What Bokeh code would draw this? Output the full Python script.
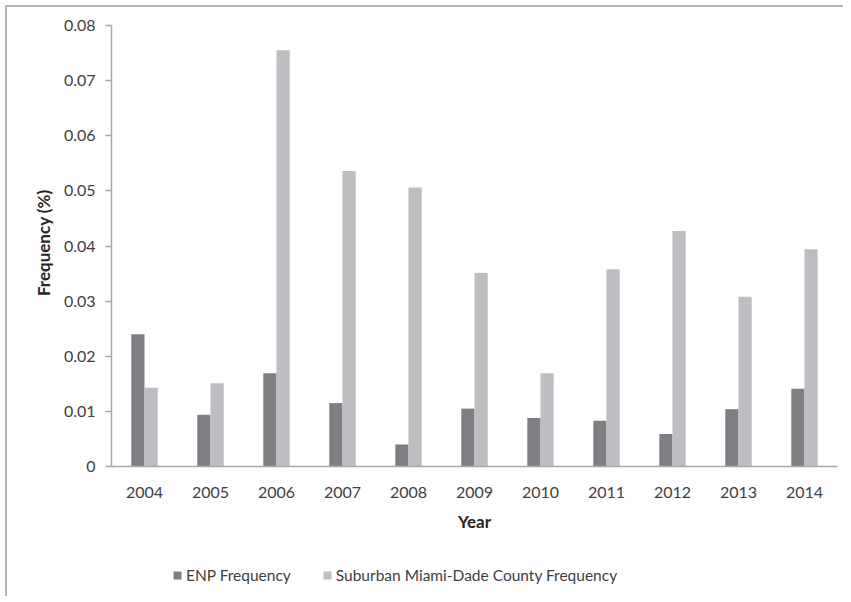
from bokeh.plotting import figure
from bokeh.models import ColumnDataSource, Legend, LegendItem, FixedTicker, Title
from bokeh.transform import dodge
from bokeh.embed import file_html
from bokeh.resources import INLINE

years = ["2004", "2005", "2006", "2007", "2008", "2009", "2010", "2011", "2012", "2013", "2014"]
enp = [0.0240, 0.0094, 0.0169, 0.0115, 0.0040, 0.0105, 0.0088, 0.0083, 0.0059, 0.0104, 0.0141]
suburban = [0.0143, 0.0151, 0.0755, 0.0536, 0.0506, 0.0351, 0.0169, 0.0358, 0.0427, 0.0308, 0.0394]
yticks = [0, 0.01, 0.02, 0.03, 0.04, 0.05, 0.06, 0.07, 0.08]
ytick_labels = ["0", "0.01", "0.02", "0.03", "0.04", "0.05", "0.06", "0.07", "0.08"]

FONT = "Lato"
TEXT = "#404040"
AXIS = "#a6a6aa"
ENP_COLOR = "#7e7f83"
SUB_COLOR = "#bdbec2"

Y_MAX = 0.08
# the frame extends below zero so that the legend sits inside it
Y_LOW = -Y_MAX * 132 / 441

src = ColumnDataSource(dict(year=years, enp=enp, suburban=suburban))

p = figure(x_range=years, y_range=(Y_LOW, Y_MAX), width=838, height=591,
           output_backend="svg", toolbar_location=None,
           min_border_left=104, min_border_right=8, min_border_top=18, min_border_bottom=0)

r1 = p.vbar(x=dodge("year", -0.1, range=p.x_range), top="enp", width=0.2, source=src,
            fill_color=ENP_COLOR, line_color=None)
r2 = p.vbar(x=dodge("year", 0.1, range=p.x_range), top="suburban", width=0.2, source=src,
            fill_color=SUB_COLOR, line_color=None)

p.x_range.range_padding = 0
p.outline_line_color = None
p.xgrid.grid_line_color = None
p.ygrid.grid_line_color = None
p.background_fill_color = "white"
p.border_fill_color = "white"

p.yaxis.bounds = (0, Y_MAX)
p.yaxis.ticker = FixedTicker(ticks=yticks)
p.yaxis.major_label_overrides = {t: l for t, l in zip(yticks, ytick_labels)}
p.yaxis.minor_tick_line_color = None
p.yaxis.major_tick_in = 0
p.yaxis.major_tick_out = 6
p.yaxis.major_tick_line_color = AXIS
p.yaxis.major_tick_line_width = 1.5
p.yaxis.axis_line_color = AXIS
p.yaxis.axis_line_width = 1.5
p.yaxis.major_label_standoff = 10

p.xaxis.fixed_location = 0
p.xaxis.axis_line_color = AXIS
p.xaxis.axis_line_width = 1.5
p.xaxis.major_tick_line_color = None
p.xaxis.minor_tick_line_color = None
p.xaxis.major_label_standoff = 14
p.xaxis.axis_label = "Year"
p.xaxis.axis_label_standoff = 10

for ax in (p.xaxis, p.yaxis):
    ax.major_label_text_font = FONT
    ax.major_label_text_font_size = "16px"
    ax.major_label_text_color = TEXT
    ax.axis_label_text_font = FONT
    ax.axis_label_text_font_size = "17px"
    ax.axis_label_text_font_style = "bold"
    ax.axis_label_text_color = "#262626"

ytitle = Title(text="Frequency (%)", align="right", offset=164, standoff=14,
               text_font=FONT, text_font_size="17px", text_font_style="bold",
               text_color="#262626")
p.add_layout(ytitle, "left")

legend = Legend(items=[LegendItem(label="ENP Frequency", renderers=[r1]),
                       LegendItem(label="Suburban Miami-Dade County Frequency", renderers=[r2])],
                orientation="horizontal", location=(61, 14),
                label_text_font=FONT, label_text_font_size="15.5px", label_text_color=TEXT,
                glyph_width=10, glyph_height=10, label_standoff=4, spacing=31,
                border_line_color=None, background_fill_alpha=0, padding=4, margin=0)
p.add_layout(legend, "center")

p.styles = {"margin-left": "5px", "margin-top": "5px",
            "border-left": "2px solid #b4b4b8", "border-top": "2px solid #b4b4b8"}

open("out.html", "w").write(file_html(p, INLINE))
